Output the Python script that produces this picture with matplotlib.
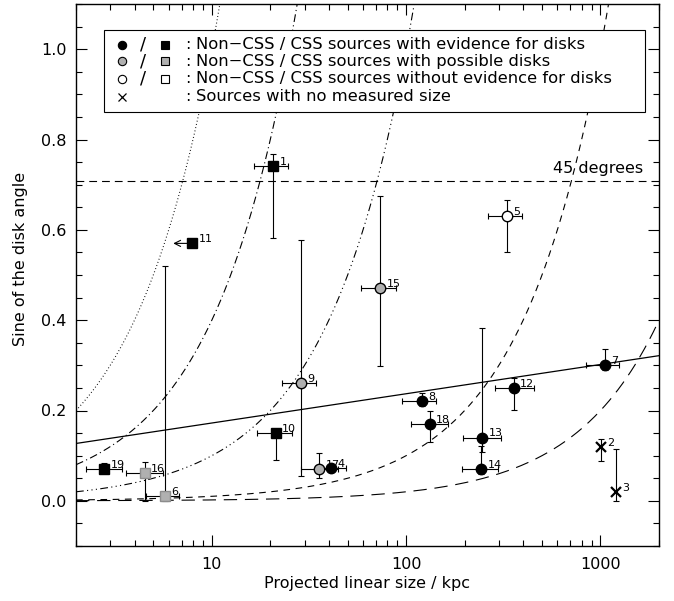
import numpy as np
import matplotlib
matplotlib.use('Agg')
import matplotlib.pyplot as plt
from matplotlib.patches import Rectangle
from matplotlib.ticker import MultipleLocator, FixedLocator, FixedFormatter, LogLocator, NullFormatter

plt.rcParams['font.family'] = ['DejaVu Sans']

# sources: id, class, projected size (kpc) with range, sine of disk angle with range
src_id = [1, 2, 3, 4, 5, 6, 7, 8, 9, 10, 11, 12, 13, 14, 15, 16, 17, 18, 19]
src_kind = ['css_ev', 'nosize', 'nosize', 'ev', 'without', 'css_pos', 'ev', 'ev', 'pos', 'css_ev',
            'css_ev', 'ev', 'ev', 'ev', 'pos', 'css_pos', 'pos', 'ev', 'css_ev']
size_kpc = [20.7, 1006, 1203, 41.2, 330, 5.73, 1049, 120, 28.6, 21.3,
            7.93, 358, 246, 244, 73.7, 4.52, 35.8, 132, 2.80]
size_lo = [16.5, np.nan, np.nan, 34.4, 264, 4.58, 843, 95.5, 22.9, 17.0,
           np.nan, 287, 197, 194, 58.8, 3.61, 28.6, 106, 2.25]
size_hi = [24.7, np.nan, np.nan, 49.3, 396, 6.79, 1250, 143, 34.3, 26.0,
           np.nan, 454, 308, 296, 88.3, 5.63, 44.8, 165, 3.43]
sin_angle = [0.742, 0.119, 0.019, 0.072, 0.631, 0.010, 0.301, 0.220, 0.260, 0.150,
             0.570, 0.250, 0.140, 0.070, 0.471, 0.061, 0.071, 0.170, 0.071]
sin_lo = [0.581, 0.088, 0.0, 0.065, 0.550, 0.0, 0.290, 0.210, 0.056, 0.090,
          np.nan, 0.2015, 0.108, 0.060, 0.299, 0.0, 0.051, 0.130, 0.062]
sin_hi = [0.768, 0.136, 0.114, 0.079, 0.665, 0.521, 0.336, 0.238, 0.578, 0.160,
          np.nan, 0.271, 0.382, 0.1215, 0.676, 0.086, 0.107, 0.198, 0.084]

# source 11 only has an upper limit on its size
limit_id = 11
limit_size = 6.33

# sin = size / D for several disk diameters D (kpc)
disk_diam = [10, 25, 100, 1000, 5000]
disk_styles = [(0, (0.8, 2.2)), (0, (7, 3, 1, 3)), (0, (7, 3, 1, 3, 1, 3, 1, 3)),
               (0, (6, 5)), (0, (12, 7))]

# linear trend in log(size)
trend_intercept = 0.1075
trend_slope = 0.0648

sin45 = np.sin(np.radians(45))

FS = 11.5
gray = '#b0b0b0'
styles = {
    'ev': dict(marker='o', mfc='k', mec='k', ms=7.5),
    'css_ev': dict(marker='s', mfc='k', mec='k', ms=7.5),
    'pos': dict(marker='o', mfc=gray, mec='k', ms=7.5),
    'css_pos': dict(marker='s', mfc=gray, mec='#8c8c8c', ms=7.5),
    'without': dict(marker='o', mfc='w', mec='k', ms=7.5),
    'nosize': dict(marker='x', color='k', ms=6.5, mew=1.6),
}

fig = plt.figure(figsize=(6.74, 6.01), dpi=100)
ax = fig.add_axes([76/674, 55/601, 583/674, 542/601])

xx = np.logspace(np.log10(2), np.log10(2000), 400)
for D, ls in zip(disk_diam, disk_styles):
    ax.plot(xx, xx / D, color='k', lw=0.8, linestyle=ls)
ax.plot(xx, trend_intercept + trend_slope * np.log10(xx), color='k', lw=0.9)
ax.axhline(sin45, color='k', lw=0.8, linestyle=(0, (7, 4.5)))
ax.text(1650, sin45 + 0.012, '45 degrees', ha='right', va='bottom', fontsize=FS)

for i, sid in enumerate(src_id):
    x, y = size_kpc[i], sin_angle[i]
    if not np.isnan(size_lo[i]):
        ax.errorbar(x, y, xerr=[[x - size_lo[i]], [size_hi[i] - x]], fmt='none',
                    ecolor='k', elinewidth=0.8, capsize=2.5, capthick=0.8, zorder=2)
    if not np.isnan(sin_lo[i]):
        ax.errorbar(x, y, yerr=[[y - sin_lo[i]], [sin_hi[i] - y]], fmt='none',
                    ecolor='k', elinewidth=0.8, capsize=2.5, capthick=0.8, zorder=2)
    if sid == limit_id:
        ax.annotate('', xy=(limit_size, y), xytext=(x, y),
                    arrowprops=dict(arrowstyle='->', lw=0.8, color='k',
                                    shrinkA=0, shrinkB=0, mutation_scale=11), zorder=2)
    ax.plot(x, y, linestyle='none', zorder=3, **styles[src_kind[i]])
    ax.annotate(str(sid), (x, y), xytext=(4.5, 3), textcoords='offset points',
                fontsize=8, ha='left', va='center', zorder=4)

ax.set_xscale('log')
ax.set_xlim(2, 2000)
ax.set_ylim(-0.1, 1.1)
ax.xaxis.set_major_locator(FixedLocator([10, 100, 1000]))
ax.xaxis.set_major_formatter(FixedFormatter(['10', '100', '1000']))
ax.xaxis.set_minor_locator(LogLocator(base=10, subs=np.arange(2, 10)))
ax.xaxis.set_minor_formatter(NullFormatter())
ax.yaxis.set_major_locator(MultipleLocator(0.2))
ax.yaxis.set_minor_locator(MultipleLocator(0.05))
ax.yaxis.set_major_formatter(matplotlib.ticker.FormatStrFormatter('%.1f'))

ax.tick_params(which='both', direction='in', top=True, right=True, width=0.8, labelsize=FS)
ax.tick_params(which='major', length=8)
ax.tick_params(which='minor', length=4.5)
ax.tick_params(axis='x', pad=8)
ax.tick_params(axis='y', pad=7)
for s in ax.spines.values():
    s.set_linewidth(1.0)

ax.set_xlabel('Projected linear size / kpc', fontsize=FS, labelpad=3)
ax.set_ylabel('Sine of the disk angle', fontsize=FS)
ax.yaxis.set_label_coords(-0.082, 0.53)

# key box
ax.add_patch(Rectangle((0.048, 0.801), 0.928, 0.151, transform=ax.transAxes,
                       fc='w', ec='k', lw=0.8, zorder=5))
rows_y = [0.9244, 0.894, 0.8625, 0.829]
key_fill = ['k', gray, 'w']
key_text = ['Non\u2212CSS / CSS sources with evidence for disks',
            'Non\u2212CSS / CSS sources with possible disks',
            'Non\u2212CSS / CSS sources without evidence for disks',
            'Sources with no measured size']
for r in range(3):
    ry = rows_y[r]
    ax.plot(0.0789, ry, 'o', mfc=key_fill[r], mec='k', ms=6, mew=0.8,
            transform=ax.transAxes, zorder=6, clip_on=False)
    ax.text(0.115, ry, '/', transform=ax.transAxes, ha='center', va='center',
            fontsize=13, zorder=6)
    ax.plot(0.1527, ry, 's', mfc=key_fill[r], mec='k', ms=6, mew=0.8,
            transform=ax.transAxes, zorder=6, clip_on=False)
ax.plot(0.0789, rows_y[3], 'x', color='k', ms=6, mew=0.9,
        transform=ax.transAxes, zorder=6, clip_on=False)
for r in range(4):
    ax.text(0.192, rows_y[r], ':', transform=ax.transAxes, ha='center', va='center',
            fontsize=FS, zorder=6)
    ax.text(0.206, rows_y[r], key_text[r], transform=ax.transAxes, ha='left',
            va='center', fontsize=11.8, zorder=6)

fig.savefig('out.png', dpi=100)
